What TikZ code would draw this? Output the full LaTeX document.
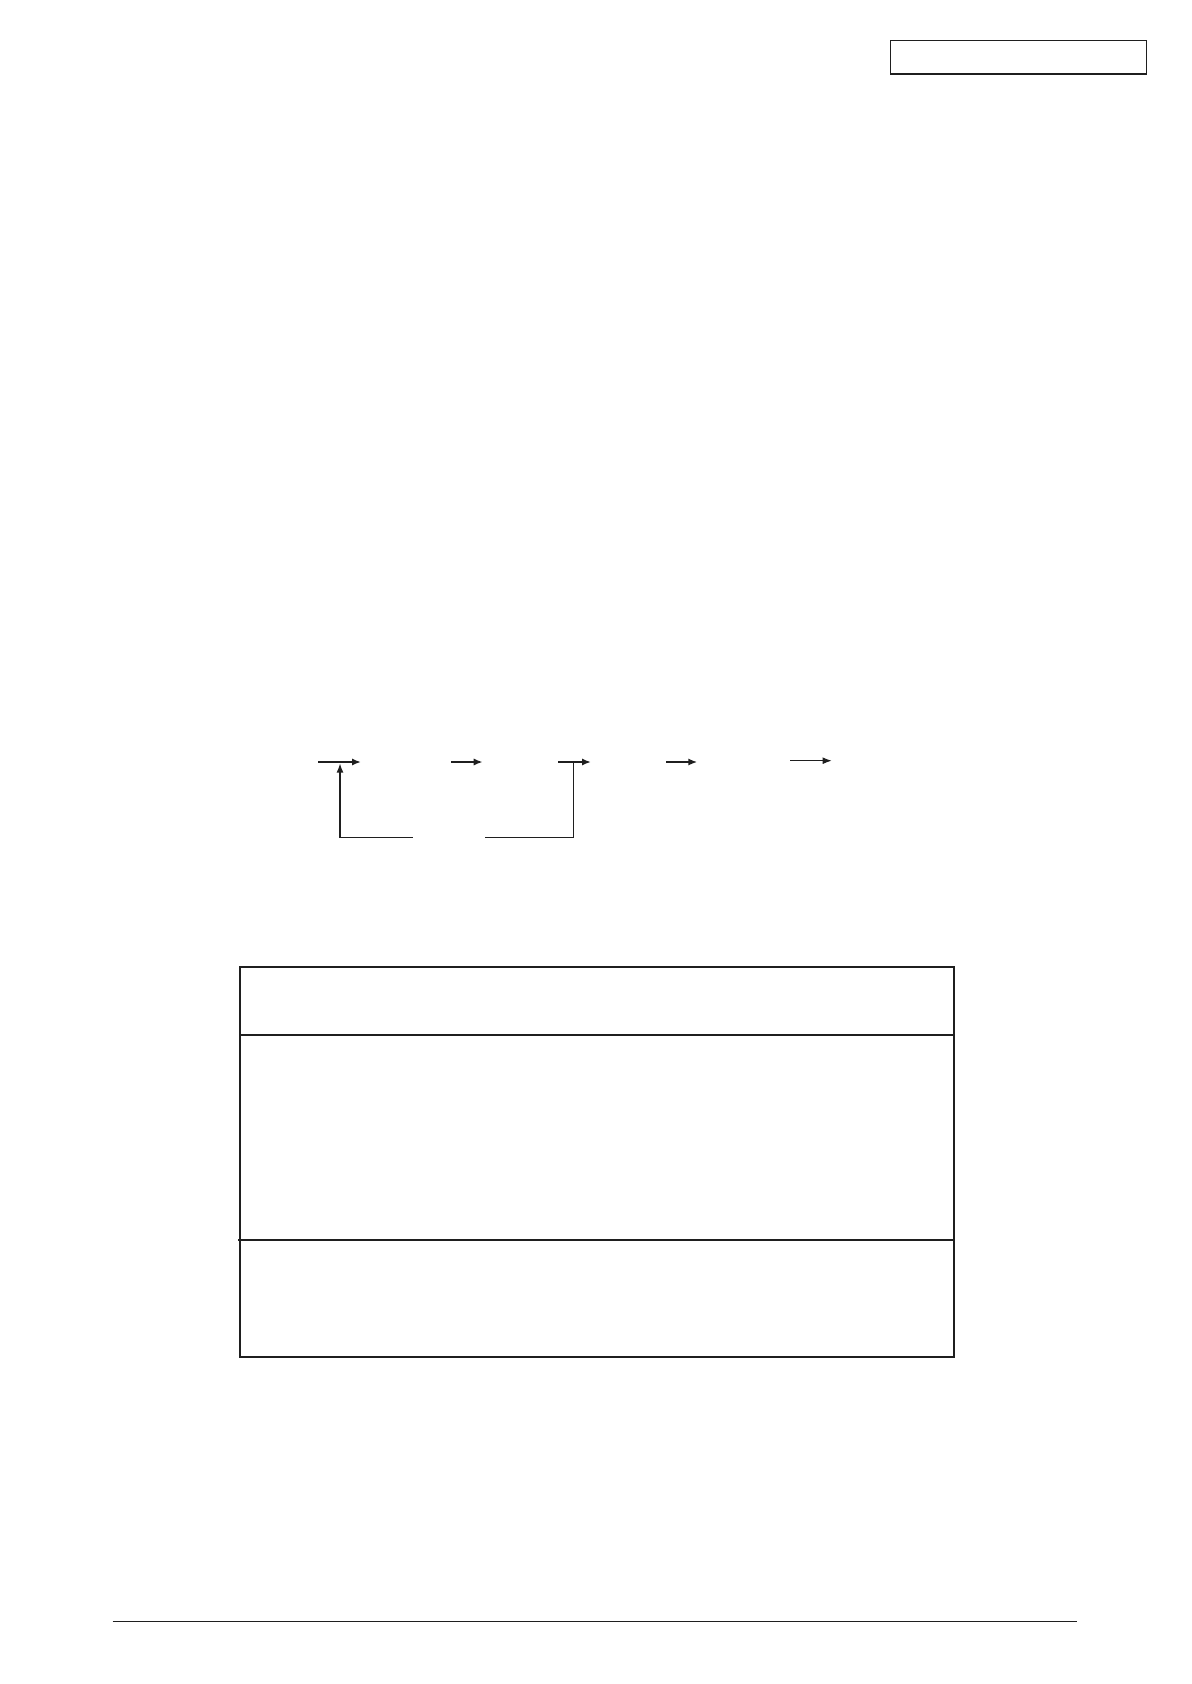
\documentclass[tikz,border=0pt]{standalone}
\usetikzlibrary{arrows.meta}
\begin{document}
\begin{tikzpicture}[x=0.5pt,y=-0.5pt,
  frame/.style={draw=black!88,line width=0.85pt},
  thin frame/.style={draw=black!88,line width=0.65pt},
  flow/.style={draw=black!88,line width=0.9pt,-{Latex[length=4.5pt,width=3.6pt]}},
  thin flow/.style={draw=black!88,line width=0.55pt,-{Latex[length=4.5pt,width=3.4pt]}},
  feedback/.style={draw=black!88,line width=0.55pt},
  rule/.style={draw=black!88,line width=0.7pt}]
\useasboundingbox (0,0) rectangle (1191,1684);
% header box
\coordinate (hb1) at (890.3,40.3);
\coordinate (hb2) at (1146.7,74);
\draw[thin frame] (hb1) rectangle (hb2);
% flow arrows
\coordinate (a1s) at (318.3,762);
\coordinate (a1e) at (361,762);
\coordinate (a2s) at (451,762);
\coordinate (a2e) at (482.7,762);
\coordinate (a3s) at (558.3,762);
\coordinate (a3e) at (591,762);
\coordinate (a4s) at (666,762);
\coordinate (a4e) at (697.3,762);
\coordinate (a5s) at (790,760.7);
\coordinate (a5e) at (831.7,760.7);
\draw[flow] (a1s) -- (a1e);
\draw[flow] (a2s) -- (a2e);
\draw[flow] (a3s) -- (a3e);
\draw[flow] (a4s) -- (a4e);
\draw[thin flow] (a5s) -- (a5e);
% feedback loop
\coordinate (fbL) at (412.7,837.7);
\coordinate (fbR) at (485,837.7);
\coordinate (fbTip) at (340,763.5);
\coordinate (fbTop) at (573.7,762);
\draw[feedback,-{Latex[length=4.5pt,width=3.4pt]}] (fbL) -| (fbTip);
\draw[feedback] (fbR) -| (fbTop);
% table
\coordinate (t1) at (240,966.7);
\coordinate (t2) at (953.7,1357);
\draw[frame] (t1) rectangle (t2);
\coordinate (r1l) at (240,1035);
\coordinate (r1r) at (953.7,1035);
\coordinate (r2l) at (238.3,1240);
\coordinate (r2r) at (953.7,1240);
\draw[frame,line width=1pt] (r1l) -- (r1r);
\draw[frame,line width=1pt] (r2l) -- (r2r);
% footer rule
\coordinate (f1) at (112.7,1621.7);
\coordinate (f2) at (1076.7,1621.7);
\draw[rule] (f1) -- (f2);
\end{tikzpicture}
\end{document}
